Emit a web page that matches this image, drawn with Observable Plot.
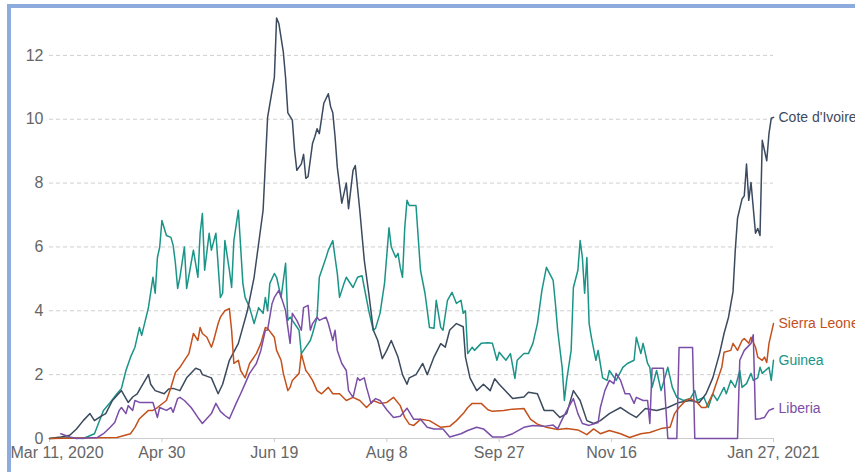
<!DOCTYPE html>
<html><head><meta charset="utf-8">
<script src="https://cdn.jsdelivr.net/npm/d3@7"></script>
<script src="https://cdn.jsdelivr.net/npm/@observablehq/plot@0.6"></script>
<style>
html,body{margin:0;padding:0;background:#fff;overflow:hidden;width:855px;height:472px;}
#frame{position:absolute;left:7px;top:4px;width:900px;height:520px;border-left:4px solid #8eabdd;border-top:4px solid #8eabdd;}
#chart{position:absolute;left:0;top:0;}
</style></head><body><div id="frame"></div><div id="chart"></div>
<script>
// [day offset from Mar 11, 2020, value]
const coteDIvoire = [[0,0],[5,0.05],[9,0.1],[12,0.3],[15,0.56],[18,0.78],[20,0.56],[23,0.7],[25,0.78],[28,1.19],[32,1.5],[35,1.13],[37,1.3],[39,1.4],[44,2.0],[45,1.7],[47,1.5],[51,1.4],[53,1.55],[55,1.57],[58,1.5],[61,1.9],[65,2.2],[67,2.15],[68,2.0],[72,1.9],[75,1.4],[77,1.7],[80,2.45],[84,2.98],[88,4.0],[91,5.05],[95,7.15],[97,10.06],[100,11.3],[101,13.17],[102,13.0],[104,12.1],[105,11.3],[106,10.2],[108,9.97],[109,9.03],[110,8.4],[112,8.6],[113,8.9],[114,8.15],[115,8.2],[117,9.25],[118,9.45],[119,9.7],[120,9.55],[122,10.5],[124,10.8],[125,10.4],[126,10.2],[127,9.45],[128,8.5],[130,7.37],[132,8.0],[133,7.2],[135,8.4],[136,8.55],[138,7.15],[140,5.58],[142,4.55],[144,3.4],[146,3.07],[148,2.5],[150,2.76],[152,3.07],[155,2.55],[157,2.0],[159,1.7],[160,1.9],[163,2.0],[166,2.35],[168,2.0],[171,2.55],[174,2.97],[176,2.86],[178,3.4],[181,3.6],[184,3.5],[185,2.55],[187,1.9],[190,1.5],[193,1.7],[196,1.5],[198,1.87],[200,1.7],[204,1.4],[206,1.25],[211,1.3],[213,1.45],[217,1.4],[220,0.88],[224,0.88],[227,0.66],[230,0.78],[233,1.5],[236,1.19],[239,0.56],[242,0.47],[245,0.56],[249,0.78],[254,0.97],[258,0.78],[261,0.66],[265,0.94],[270,0.88],[275,0.97],[280,1.13],[285,1.19],[289,1.13],[292,1.4],[295,1.9],[298,2.66],[300,3.29],[302,3.8],[304,4.6],[305,5.9],[306,6.9],[308,7.5],[309,7.6],[310,8.6],[311,7.46],[312,8.02],[314,6.43],[315,6.58],[316,6.36],[317,9.34],[319,8.7],[320,9.56],[321,10.03],[322,10.06]];
const guinea = [[0,0],[9,0.02],[15,0],[20,0.15],[24,0.88],[27,1.13],[30,1.4],[32,1.57],[34,2.13],[36,2.54],[38,2.86],[40,3.48],[41,3.23],[44,4.1],[46,5.05],[47,4.55],[48,5.67],[49,5.99],[50,6.83],[52,6.36],[54,6.3],[55,6.05],[56,5.49],[57,4.7],[58,5.05],[60,6.0],[61,4.7],[63,5.5],[64,5.9],[66,5.05],[67,6.43],[68,7.05],[69,5.27],[71,6.43],[72,5.9],[74,6.43],[76,4.42],[77,4.55],[78,6.2],[80,5.27],[81,4.73],[82,6.2],[84,7.15],[86,4.86],[87,4.42],[89,4.1],[91,3.6],[93,4.1],[95,3.92],[96,4.42],[97,4.0],[98,4.86],[100,5.17],[101,5.05],[103,4.42],[105,5.49],[106,3.7],[107,3.8],[108,3.7],[111,3.39],[112,2.66],[114,2.86],[116,3.07],[117,3.29],[119,3.8],[120,5.05],[123,5.67],[124,5.9],[126,6.2],[127,5.67],[128,5.17],[129,4.42],[131,4.86],[132,5.05],[135,4.73],[137,5.05],[139,5.1],[140,4.73],[142,4.0],[144,3.39],[145,3.45],[147,3.92],[149,4.86],[151,6.6],[152,6.0],[154,5.67],[155,5.8],[156,5.36],[157,5.05],[158,6.6],[159,7.46],[160,7.3],[163,7.3],[165,5.27],[167,4.55],[169,3.48],[171,3.45],[172,4.33],[174,3.48],[175,3.39],[177,4.33],[179,4.58],[181,4.23],[183,4.33],[184,3.92],[185,4.0],[186,2.66],[188,2.86],[189,2.76],[192,2.98],[195,3.0],[197,2.98],[199,2.45],[200,2.7],[203,2.45],[205,2.66],[207,1.88],[208,2.45],[211,2.66],[213,2.66],[215,2.98],[217,3.6],[219,4.64],[221,5.36],[224,4.95],[225,4.23],[226,3.39],[228,2.23],[229,1.19],[230,1.82],[232,2.76],[233,4.73],[235,5.27],[236,6.2],[237,5.67],[238,4.55],[239,5.67],[240,3.6],[241,3.17],[243,2.45],[244,2.76],[246,1.9],[248,1.82],[249,2.13],[252,1.82],[255,2.23],[257,2.35],[260,2.45],[261,3.17],[263,2.66],[264,2.98],[266,2.35],[267,2.23],[268,1.6],[270,2.13],[272,1.5],[275,2.23],[277,1.6],[279,1.29],[282,1.19],[285,1.25],[287,1.5],[288,1.19],[291,1.29],[293,0.97],[295,1.4],[297,1.19],[300,1.6],[301,1.4],[303,1.82],[305,1.6],[307,2.13],[308,1.6],[310,1.72],[312,2.04],[313,1.82],[315,1.9],[316,2.23],[317,2.04],[320,2.23],[321,1.82],[322,2.45]];
const sierraLeone = [[0,0],[20,0.02],[30,0.03],[36,0.15],[38,0.35],[40,0.62],[44,0.88],[46,0.88],[48,0.97],[52,1.19],[54,1.6],[56,2.07],[58,2.23],[60,2.45],[62,2.66],[64,3.29],[66,3.07],[67,3.48],[68,3.29],[70,3.17],[72,2.86],[73,3.07],[75,3.6],[76,3.8],[78,4.0],[80,4.07],[81,3.39],[82,2.35],[84,2.45],[85,2.13],[87,1.9],[89,2.35],[92,2.66],[94,2.98],[96,3.48],[97,3.45],[100,3.17],[101,2.76],[103,2.45],[104,2.04],[106,1.5],[107,1.6],[108,1.82],[111,2.04],[112,2.66],[114,2.13],[115,2.04],[117,1.82],[119,1.5],[121,1.4],[124,1.6],[126,1.4],[129,1.4],[132,1.19],[135,1.29],[138,1.19],[141,0.97],[144,1.19],[147,1.1],[150,1.13],[153,1.29],[156,1.03],[158,0.66],[160,0.45],[162,0.41],[165,0.6],[169,0.56],[174,0.35],[178,0.38],[181,0.56],[184,0.78],[186,0.97],[188,1.1],[192,1.1],[195,0.9],[197,0.85],[202,0.88],[206,0.92],[211,0.94],[214,0.6],[217,0.45],[221,0.35],[226,0.28],[230,0.31],[235,0.27],[239,0.12],[242,0.3],[245,0.15],[249,0.25],[254,0.15],[258,0.03],[263,0.15],[267,0.19],[272,0.31],[276,0.35],[278,0.78],[280,0.97],[283,1.19],[285,1.25],[288,1.13],[290,0.97],[292,0.97],[295,1.4],[297,1.82],[299,2.23],[300,2.7],[303,2.76],[304,2.98],[306,2.76],[308,3.07],[309,3.13],[311,2.98],[312,3.17],[314,2.86],[315,2.55],[317,2.45],[318,2.55],[319,2.38],[320,2.98],[322,3.6]];
const liberia = [[5,0.15],[9,0.05],[12,0],[18,0.02],[21,0.02],[24,0.15],[27,0.35],[29,0.5],[31,0.88],[32,0.97],[34,0.78],[35,1.03],[37,0.88],[38,1.19],[40,1.13],[44,1.13],[46,1.13],[48,0.66],[49,0.97],[52,0.88],[54,0.97],[55,0.82],[57,1.25],[58,1.29],[60,1.19],[63,0.97],[66,0.66],[68,0.47],[72,0.78],[74,1.1],[76,0.85],[78,0.72],[80,0.62],[83,1.1],[85,1.4],[87,1.72],[89,2.04],[92,2.35],[94,2.76],[96,3.39],[97,3.4],[99,4.23],[100,4.42],[102,4.64],[104,4.23],[105,4.0],[106,3.48],[107,2.98],[108,3.92],[110,3.7],[112,3.39],[113,4.1],[115,4.17],[116,3.39],[117,3.6],[119,3.8],[120,3.7],[123,3.8],[124,3.6],[126,3.07],[127,3.39],[128,2.76],[130,2.35],[132,2.13],[133,1.5],[135,1.29],[137,1.9],[138,1.82],[140,1.9],[141,1.6],[143,1.1],[145,1.25],[147,1.19],[150,0.9],[153,0.66],[156,0.7],[159,0.95],[162,0.6],[165,0.6],[168,0.35],[171,0.3],[175,0.3],[178,0.05],[183,0.15],[186,0.25],[190,0.35],[193,0.3],[197,0.05],[202,0.05],[206,0.15],[211,0.35],[215,0.41],[220,0.38],[224,0.42],[226,0.3],[228,0.6],[231,1.0],[233,1.25],[235,0.78],[237,0.47],[240,0.41],[244,0.5],[245,0.97],[247,1.5],[249,1.82],[251,1.72],[252,2.04],[254,1.82],[256,1.4],[258,1.4],[260,1.1],[261,1.29],[264,1.19],[266,1.19],[267,0.47],[268,2.2],[273,2.2],[275,0],[279,0],[280,2.85],[286,2.85],[287,0],[306,0],[307,2.45],[309,2.76],[312,2.98],[313,3.25],[314,0.6],[316,0.62],[318,0.66],[319,0.78],[320,0.88],[322,0.94]];

const countries = ["Guinea", "Cote d'Ivoire", "Sierra Leone", "Liberia"];
const seriesList = [guinea, coteDIvoire, sierraLeone, liberia];
const colors = ["#1b9488", "#3b4a5e", "#c4501c", "#7a4ea6"];
const xTickDates = ["2020-03-11","2020-04-30","2020-06-19","2020-08-08","2020-09-27","2020-11-16","2021-01-27"];
const xTickLabels = ["Mar 11, 2020","Apr 30","Jun 19","Aug 8","Sep 27","Nov 16","Jan 27, 2021"];
const yTicks = [0, 2, 4, 6, 8, 10, 12];

const start = new Date("2020-03-11T00:00:00Z");
const end = new Date("2021-01-27T00:00:00Z");
const rows = countries.flatMap((c, i) => seriesList[i].map(([d, v]) => ({country: c, date: d3.utcDay.offset(start, d), value: v})));
const last = countries.map((c, i) => { const s = seriesList[i]; const [d, v] = s[s.length - 1]; return {country: c, date: d3.utcDay.offset(start, d), value: v}; });
const tickDates = xTickDates.map(s => new Date(s + "T00:00:00Z"));
const labelOf = new Map(tickDates.map((d, i) => [+d, xTickLabels[i]]));

const font = "'Liberation Sans', Arial, sans-serif";
const chart = Plot.plot({
  width: 855, height: 472,
  marginLeft: 49, marginRight: 82, marginTop: 7, marginBottom: 34,
  style: {fontFamily: font, fontSize: "16px", color: "#666", background: "transparent"},
  x: {type: "utc", domain: [start, end], label: null},
  y: {domain: [0, 13.5], label: null},
  color: {domain: countries, range: colors},
  marks: [
    Plot.gridY(yTicks.slice(1), {stroke: "#cfcfcf", strokeOpacity: 1, strokeDasharray: "4,3"}),
    Plot.ruleY([0], {stroke: "#cccccc"}),
    Plot.axisY(yTicks, {tickSize: 0, tickPadding: 6, fontSize: 16, fill: "#666"}),
    Plot.axisX(tickDates, {tickSize: 4, tickPadding: 4, stroke: "#cccccc", fill: "#666", fontSize: 16,
      tickFormat: d => (+d === +start ? "" : labelOf.get(+d))}),
    Plot.text([start], {x: d => d, y: () => 0, text: () => xTickLabels[0], textAnchor: "start", lineAnchor: "top",
      dx: -39, dy: 8, fontSize: 16, fill: "#666"}),
    Plot.line(rows, {x: "date", y: "value", z: "country", stroke: "country", strokeWidth: 1.5}),
    Plot.text(last, {x: "date", y: "value", text: "country", fill: "country", dx: 5, textAnchor: "start", fontSize: 14})
  ]
});
document.getElementById("chart").appendChild(chart);
</script></body></html>
